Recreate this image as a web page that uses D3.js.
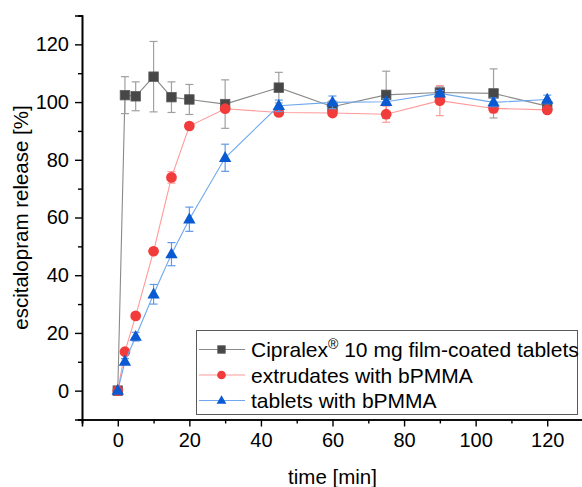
<!DOCTYPE html>
<html>
<head>
<meta charset="utf-8">
<script src="https://cdn.jsdelivr.net/npm/d3@7"></script>
<style>
  html, body { margin: 0; padding: 0; background: #fff; }
  svg { display: block; }
  text { font-family: "Liberation Sans", Arial, sans-serif; fill: #000; }
</style>
</head>
<body>
<svg id="chart" width="582" height="487"></svg>
<script>
// Sampling times [min]
const times = [0, 2, 5, 10, 15, 20, 30, 45, 60, 75, 90, 105, 120];

// Mean release [%] and standard deviations per formulation
const cipralexMean = [0, 102.4, 102.0, 108.8, 101.7, 100.9, 99.3, 105.0, 98.4, 102.5, 103.3, 103.0, 98.6];
const cipralexSd   = [0, 6.4, 5.0, 12.2, 5.3, 5.2, 8.4, 5.3, 2.0, 8.2, 2.0, 8.5, 1.5];

const extrudateMean = [0, 13.5, 25.9, 48.3, 73.9, 91.7, 97.7, 96.4, 96.2, 95.8, 100.5, 97.8, 97.3];
const extrudateSd   = [0, 1.0, 1.0, 1.0, 2.0, 1.2, 1.0, 1.0, 1.0, 2.8, 5.2, 1.5, 1.0];

const tabletMean = [0, 10.1, 18.7, 33.4, 47.3, 59.4, 80.7, 98.7, 99.9, 100.1, 103.0, 99.9, 100.9];
const tabletSd   = [0, 1.0, 1.5, 3.4, 4.0, 4.2, 4.7, 2.0, 2.2, 1.0, 1.0, 1.5, 1.5];

const seriesNames = ["Cipralex", "extrudates with bPMMA", "tablets with bPMMA"];

const xMajorTicks = [0, 20, 40, 60, 80, 100, 120];
const xMinorTicks = [-10, 10, 30, 50, 70, 90, 110, 130];
const yMajorTicks = [0, 20, 40, 60, 80, 100, 120];
const yMinorTicks = [-10, 10, 30, 50, 70, 90, 110, 130];

const svg = d3.select("#chart");

const x = d3.scaleLinear().domain([-10, 130]).range([82, 583]);
const y = d3.scaleLinear().domain([-10, 130]).range([419.5, 15.5]);

const series = [
  { name: seriesNames[0], mean: cipralexMean, sd: cipralexSd, shape: "square",
    fill: "#474747", line: "#8a8a8a", err: "#a0a0a0" },
  { name: seriesNames[1], mean: extrudateMean, sd: extrudateSd, shape: "circle",
    fill: "#f23b3b", line: "#ff9a9a", err: "#ff9a9a" },
  { name: seriesNames[2], mean: tabletMean, sd: tabletSd, shape: "triangle",
    fill: "#0a5ad2", line: "#6fa8ee", err: "#5f9ae6" }
];

function marker(sel, shape, size, color) {
  if (shape === "square") {
    sel.append("rect")
      .attr("x", -size / 2).attr("y", -size / 2)
      .attr("width", size).attr("height", size)
      .attr("fill", color).attr("stroke", "#5c5c5c").attr("stroke-width", 0.8);
  } else if (shape === "circle") {
    sel.append("circle").attr("r", size / 2 + 0.6).attr("fill", color);
  } else {
    const w = size * 1.3, h = size * 1.15;
    sel.append("path")
      .attr("d", `M0,${-h * 0.62}L${w / 2},${h * 0.38}L${-w / 2},${h * 0.38}Z`)
      .attr("fill", color);
  }
}

// Axes: major ticks with labels, minor ticks without
const xAxis = svg.append("g").attr("transform", `translate(0,${y(-10)})`);
xAxis.call(d3.axisBottom(x).tickValues(xMajorTicks).tickSize(7).tickPadding(6).tickFormat(d3.format("d")));
const xMinor = svg.append("g").attr("transform", `translate(0,${y(-10)})`);
xMinor.call(d3.axisBottom(x).tickValues(xMinorTicks).tickSize(4).tickFormat(""));

const yAxis = svg.append("g").attr("transform", `translate(${x(-10)},0)`);
yAxis.call(d3.axisLeft(y).tickValues(yMajorTicks).tickSize(7).tickPadding(6).tickFormat(d3.format("d")));
const yMinor = svg.append("g").attr("transform", `translate(${x(-10)},0)`);
yMinor.call(d3.axisLeft(y).tickValues(yMinorTicks).tickSize(4).tickFormat(""));

[xAxis, xMinor, yAxis, yMinor].forEach(g => {
  g.selectAll("path.domain").attr("stroke", "#000").attr("stroke-width", 1.6);
  g.selectAll(".tick line").attr("stroke", "#000").attr("stroke-width", 1.4);
  g.selectAll(".tick text").style("font-size", "20px")
    .style("font-family", "'Liberation Sans', Arial, sans-serif").attr("fill", "#000");
});

// Data series: connecting line, error bars, markers
const line = d3.line().x(d => x(d.t)).y(d => y(d.v));
series.forEach(s => {
  const pts = times.map((t, i) => ({ t, v: s.mean[i], e: s.sd[i] }));
  const g = svg.append("g");
  g.append("path").datum(pts).attr("d", line)
    .attr("fill", "none").attr("stroke", s.line).attr("stroke-width", 1.1);

  const eb = g.selectAll("g.err").data(pts.filter(d => d.e > 0)).join("g").attr("class", "err");
  eb.append("line")
    .attr("x1", d => x(d.t)).attr("x2", d => x(d.t))
    .attr("y1", d => y(d.v - d.e)).attr("y2", d => y(d.v + d.e))
    .attr("stroke", s.err).attr("stroke-width", 1.2);
  [-1, 1].forEach(sign => {
    eb.append("line")
      .attr("x1", d => x(d.t) - 4).attr("x2", d => x(d.t) + 4)
      .attr("y1", d => y(d.v + sign * d.e)).attr("y2", d => y(d.v + sign * d.e))
      .attr("stroke", s.err).attr("stroke-width", 1.2);
  });

  g.selectAll("g.mk").data(pts).join("g").attr("class", "mk")
    .attr("transform", d => `translate(${x(d.t)},${y(d.v)})`)
    .each(function () { marker(d3.select(this), s.shape, 9.5, s.fill); });
});

// Legend
const leg = svg.append("g");
leg.append("rect").attr("x", 196.5).attr("y", 330.5).attr("width", 381).attr("height", 84)
  .attr("fill", "#fff").attr("stroke", "#5a5a5a").attr("stroke-width", 1);
series.forEach((s, i) => {
  const cy = 349.5 + i * 25.5;
  const row = leg.append("g");
  row.append("line").attr("x1", 199).attr("x2", 245).attr("y1", cy).attr("y2", cy)
    .attr("stroke", s.line).attr("stroke-width", 1.1);
  const m = row.append("g").attr("transform", `translate(221.5,${cy})`);
  marker(m, s.shape, 7.5, s.fill);
  const t = row.append("text").attr("x", 251).attr("y", cy + 7.5).style("font-size", "21px");
  if (i === 0) {
    t.append("tspan").text(s.name);
    t.append("tspan").text("®").attr("dy", -8).style("font-size", "14px");
    t.append("tspan").text(" 10 mg film-coated tablets").attr("dy", 8);
  } else {
    t.text(s.name);
  }
});

// Axis titles
svg.append("text").attr("x", (x(-10) + x(130)) / 2).attr("y", 484)
  .attr("text-anchor", "middle").style("font-size", "20.5px").text("time [min]");
svg.append("text")
  .attr("transform", `translate(28,${(y(-10) + y(130)) / 2}) rotate(-90)`)
  .attr("text-anchor", "middle").style("font-size", "20.5px").text("escitalopram release [%]");
</script>
</body>
</html>
